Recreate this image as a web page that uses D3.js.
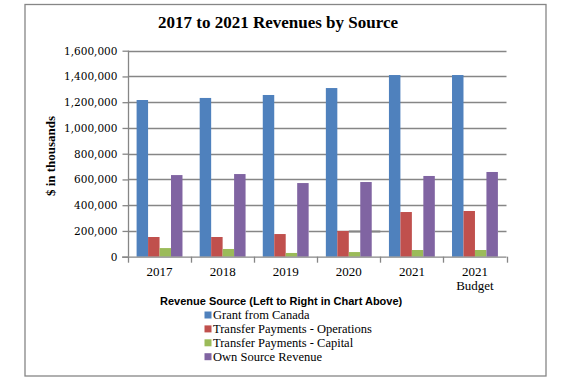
<!DOCTYPE html>
<html>
<head>
<meta charset="utf-8">
<script src="https://cdn.jsdelivr.net/npm/d3@7"></script>
<style>
  html, body { margin: 0; padding: 0; background: #fff; }
  svg { display: block; }
</style>
</head>
<body>
<svg id="chart" width="565" height="381"></svg>
<script>
const categories = ["2017", "2018", "2019", "2020", "2021", "2021\nBudget"];
const seriesNames = ["Grant from Canada", "Transfer Payments - Operations", "Transfer Payments - Capital", "Own Source Revenue"];
const grantFromCanada = [1217000, 1233000, 1256000, 1310000, 1411000, 1411000];
const transferOperations = [153000, 153000, 176000, 200000, 347000, 355000];
const transferCapital = [67000, 60000, 29000, 36000, 52000, 52000];
const ownSource = [634000, 642000, 572000, 580000, 627000, 658000];
const yTicks = [0, 200000, 400000, 600000, 800000, 1000000, 1200000, 1400000, 1600000];
const colors = ["#4F81BD", "#C0504D", "#9BBB59", "#8064A2"];

const seriesValues = [grantFromCanada, transferOperations, transferCapital, ownSource];

const svg = d3.select("#chart");

// outer frame
svg.append("rect")
  .attr("x", 25).attr("y", 4.5).attr("width", 521).attr("height", 371.5)
  .attr("fill", "#fff").attr("stroke", "#868686").attr("stroke-width", 1.3);

// title
svg.append("text")
  .attr("x", 278).attr("y", 28)
  .attr("text-anchor", "middle")
  .attr("font-family", "Liberation Serif, serif")
  .attr("font-weight", "bold")
  .attr("font-size", 17)
  .attr("fill", "#000")
  .text("2017 to 2021 Revenues by Source");

const plotLeft = 128, plotRight = 506.5, plotTop = 50.7, plotBottom = 256.7;

const x = d3.scaleBand().domain(categories).range([plotLeft, plotRight]).paddingInner(0).paddingOuter(0);
const step = x.bandwidth();
const barW = step / 5.5;
const xs = d3.scaleBand().domain(d3.range(4)).range([barW * 0.75, step - barW * 0.75]).padding(0);
const y = d3.scaleLinear().domain([0, 1600000]).range([plotBottom, plotTop]);

// gridlines
const grid = svg.append("g");
grid.selectAll("line").data(yTicks.filter(d => d > 0)).join("line")
  .attr("x1", plotLeft).attr("x2", plotRight)
  .attr("y1", d => Math.round(y(d)) + 0.5).attr("y2", d => Math.round(y(d)) + 0.5)
  .attr("stroke", "#868686").attr("stroke-width", 1.3);

// reference rendering hides the lowest gridline inside the bar clusters (except 2020, drawn heavier)
const lowGrid = yTicks[1];
categories.forEach((c, i) => {
  if (c === "2020") return;
  svg.append("rect")
    .attr("x", x(c) + xs(0)).attr("width", barW * 4)
    .attr("y", y(lowGrid) - 1.5).attr("height", plotBottom - y(lowGrid) + 1.5)
    .attr("fill", "#fff");
});
svg.append("line")
  .attr("x1", x("2020") + xs(1) + barW).attr("x2", x("2020") + step)
  .attr("y1", Math.round(y(lowGrid)) + 0.5).attr("y2", Math.round(y(lowGrid)) + 0.5)
  .attr("stroke", "#868686").attr("stroke-width", 2.2);

// bars
const bars = svg.append("g");
seriesValues.forEach((vals, s) => {
  bars.selectAll(null).data(vals).join("rect")
    .attr("x", (d, i) => x(categories[i]) + xs(s))
    .attr("width", barW)
    .attr("y", d => y(d))
    .attr("height", d => plotBottom - y(d))
    .attr("fill", colors[s]);
});

// y axis
const yAxis = d3.axisLeft(y).tickValues(yTicks).tickFormat(d3.format(",")).tickSize(6).tickPadding(5);
const yg = svg.append("g").attr("transform", `translate(${plotLeft + 0.5},0)`).call(yAxis);
yg.select(".domain").attr("stroke", "#868686").attr("stroke-width", 1.3).attr("d", `M0,${plotTop}V${plotBottom}`);
yg.selectAll(".tick line").attr("stroke", "#868686").attr("stroke-width", 1.3);
yg.selectAll(".tick text")
  .attr("font-family", "DejaVu Serif, serif")
  .attr("font-size", 10.5)
  .attr("fill", "#000");

// x axis
const xAxisLine = svg.append("g");
xAxisLine.append("line")
  .attr("x1", plotLeft - 6).attr("x2", plotRight)
  .attr("y1", plotBottom + 0.5).attr("y2", plotBottom + 0.5)
  .attr("stroke", "#868686").attr("stroke-width", 1.3);
const boundaries = categories.map(c => x(c)).concat([plotRight]);
xAxisLine.selectAll(".xt").data(boundaries).join("line")
  .attr("class", "xt")
  .attr("x1", d => Math.round(d) + 0.5).attr("x2", d => Math.round(d) + 0.5)
  .attr("y1", plotBottom).attr("y2", plotBottom + 6)
  .attr("stroke", "#868686").attr("stroke-width", 1.3);

const xl = svg.append("g");
categories.forEach(c => {
  const t = xl.append("text")
    .attr("x", x(c) + step / 2).attr("y", 275.5)
    .attr("text-anchor", "middle")
    .attr("font-family", "Liberation Serif, serif")
    .attr("font-size", 13)
    .attr("fill", "#000");
  c.split("\n").forEach((line, k) => {
    t.append("tspan").attr("x", x(c) + step / 2).attr("dy", k === 0 ? 0 : 14).text(line);
  });
});

// y axis title
svg.append("text")
  .attr("transform", "translate(55,156) rotate(-90)")
  .attr("text-anchor", "middle")
  .attr("font-family", "Liberation Serif, serif")
  .attr("font-weight", "bold")
  .attr("font-size", 13)
  .attr("fill", "#000")
  .text("$ in thousands");

// legend
svg.append("text")
  .attr("x", 160).attr("y", 304.5)
  .attr("font-family", "Liberation Sans, sans-serif")
  .attr("font-weight", "bold")
  .attr("font-size", 11)
  .attr("fill", "#000")
  .text("Revenue Source (Left to Right in Chart Above)");

const legend = svg.append("g");
seriesNames.forEach((name, i) => {
  const cy = 315 + i * 13.9;
  legend.append("rect")
    .attr("x", 204.5).attr("y", cy - 3.5).attr("width", 7).attr("height", 7)
    .attr("fill", colors[i]);
  legend.append("text")
    .attr("x", 213).attr("y", cy + 4)
    .attr("font-family", "Liberation Serif, serif")
    .attr("font-size", 12.5)
    .attr("fill", "#000")
    .text(name);
});
</script>
</body>
</html>
